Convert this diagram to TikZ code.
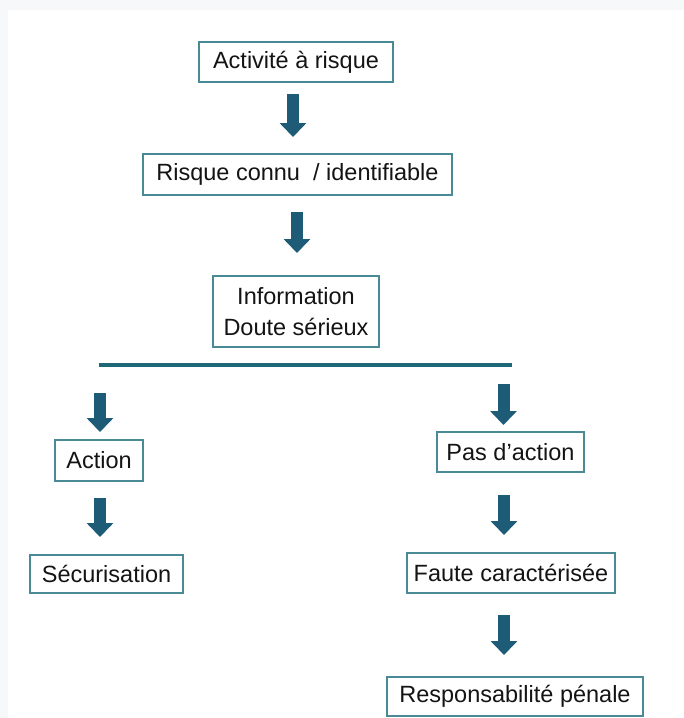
\documentclass[tikz,border=0pt]{standalone}
\usepackage{fontspec}
\setmainfont{Liberation Sans}
\usetikzlibrary{arrows.meta}
\definecolor{boxline}{HTML}{4A8A97}
\definecolor{arrowcol}{HTML}{1E5B77}
\definecolor{barcol}{HTML}{1F6878}
\definecolor{txt}{HTML}{141414}
\definecolor{outerbg}{HTML}{F7F8FA}
\begin{document}
\begin{tikzpicture}[x=1pt,y=-1pt,
  stepbox/.style={draw=boxline,line width=1.2pt,fill=white,inner sep=0pt,
    text=txt,font=\fontsize{23.5}{31}\selectfont,align=center},
  blockarrow/.style={draw=arrowcol,line width=12pt,
    -{Triangle[width=26pt,length=14pt]}}]
\useasboundingbox (0,0) rectangle (684,718);
\fill[outerbg] (0,0) rectangle (684,718);
\fill[white] (8,10) rectangle (684,718);
% boxes
\node[stepbox,minimum width=194pt,minimum height=40pt] (b1) at (296,62) {Activité à risque};
\node[stepbox,minimum width=309pt,minimum height=41pt] (b2) at (297.5,174.5) {Risque connu \ / identifiable};
\node[stepbox,minimum width=166pt,minimum height=71pt] (b3) at (296,311.5) {Information\\Doute sérieux};
\node[stepbox,minimum width=88pt,minimum height=41pt] (l1) at (99,460.5) {Action};
\node[stepbox,minimum width=153pt,minimum height=38pt] (l2) at (106.5,574) {Sécurisation};
\node[stepbox,minimum width=147pt,minimum height=40pt] (r1) at (510.5,452) {Pas d’action};
\node[stepbox,minimum width=208pt,minimum height=40pt] (r2) at (511,573) {Faute caractérisée};
\node[stepbox,minimum width=256pt,minimum height=39pt] (r3) at (515,696.5) {Responsabilité pénale};
% bar
\coordinate (barL) at (99,365);
\coordinate (barR) at (512,365);
\draw[barcol,line width=4pt] (barL) -- (barR);
% arrow end points
\coordinate (a1s) at (293,94);   \coordinate (a1e) at (293,137);
\coordinate (a2s) at (297,212);  \coordinate (a2e) at (297,253);
\coordinate (a3s) at (100,393);  \coordinate (a3e) at (100,432);
\coordinate (a4s) at (100,498);  \coordinate (a4e) at (100,537);
\coordinate (a5s) at (503.5,384);\coordinate (a5e) at (503.5,425);
\coordinate (a6s) at (504,495);  \coordinate (a6e) at (504,535);
\coordinate (a7s) at (504,615);  \coordinate (a7e) at (504,655);
\foreach \i in {1,...,7} {\draw[blockarrow] (a\i s) -- (a\i e);}
\end{tikzpicture}
\end{document}
